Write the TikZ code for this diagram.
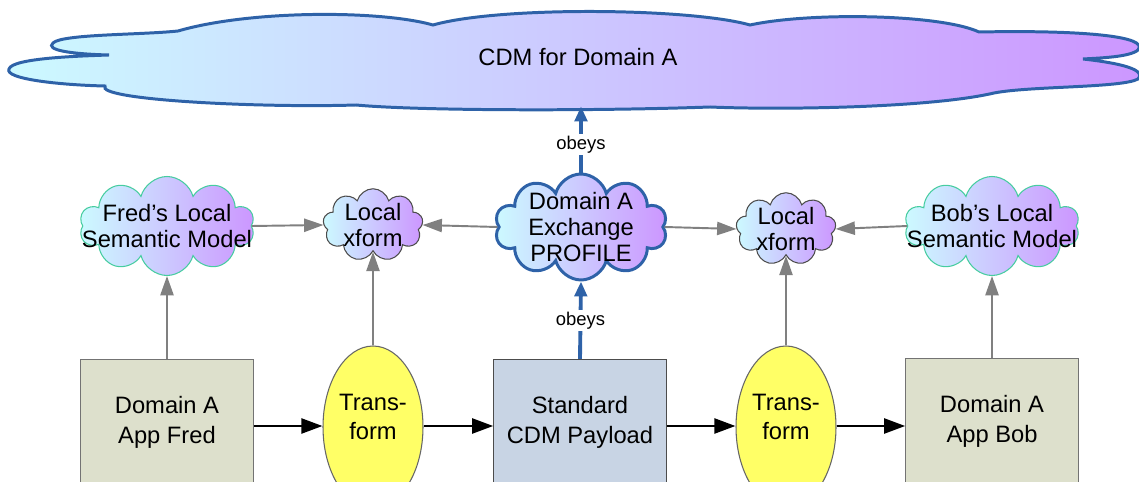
\documentclass[tikz,border=0pt]{standalone}
\usepackage{fontspec}
\setmainfont{Liberation Sans}
\usepackage{xcolor}
\usetikzlibrary{positioning,shapes.symbols,shapes.geometric,arrows.meta}
\definecolor{cloudcyan}{RGB}{204,250,255}
\definecolor{cloudpurple}{RGB}{204,150,255}
\definecolor{cdmblue}{RGB}{46,98,168}
\definecolor{modelgreen}{RGB}{70,205,160}
\definecolor{appgray}{RGB}{221,224,204}
\definecolor{payloadblue}{RGB}{200,212,228}
\definecolor{xformyellow}{RGB}{255,255,102}
\tikzset{
  txt/.style={align=center, font=\fontsize{13.5}{15}\selectfont},
  puff/.style={cloud, cloud puffs=10, cloud ignores aspect, inner sep=0pt, left color=cloudcyan, right color=cloudpurple},
  model/.style={puff, draw=modelgreen, line width=0.6pt, minimum width=3.5cm, minimum height=1.98cm},
  xform/.style={puff, cloud puffs=9, draw=black!70, line width=0.6pt, minimum width=2cm, minimum height=1.45cm},
  profilecloud/.style={puff, draw=cdmblue, line width=1.7pt, minimum width=3.45cm, minimum height=2.12cm},
  appbox/.style={rectangle, draw=black!55, line width=0.6pt, fill=appgray, minimum width=3.45cm, minimum height=2.5cm, txt, font=\fontsize{13.5}{17}\selectfont},
  payloadbox/.style={appbox, fill=payloadblue, draw=black!70},
  trans/.style={ellipse, draw=black!60, line width=0.6pt, fill=xformyellow, minimum width=2cm, minimum height=3.24cm, inner sep=0pt},
  grayarrow/.style={draw=black!50, line width=1.1pt, -{Triangle[length=11pt,width=7.5pt]}},
  flowarrow/.style={draw=black, line width=1.4pt, -{Triangle[length=12pt,width=8.5pt]}},
  obeyarrow/.style={draw=cdmblue, line width=2.2pt, -{Triangle[length=8.5pt,width=7pt]}},
  obeylabel/.style={fill=white, inner sep=1pt, font=\fontsize{10.5}{12}\selectfont}
}
\begin{document}
\begin{tikzpicture}[x=0.02cm,y=-0.02cm]
        \useasboundingbox (0,0) rectangle (1139,482);
        \clip (0,0) rectangle (1139,482);
        % big cloud
        \draw[draw=cdmblue, line width=1.7pt, left color=cloudcyan, right color=cloudpurple]
          (178,31) .. controls (250,10) and (380,10) .. (433,25)
          .. controls (500,6) and (690,8) .. (750,25)
          .. controls (810,12) and (940,14) .. (979,32)
          .. controls (1080,30) and (1150,36) .. (1138,50)
          .. controls (1130,57) and (1100,58) .. (1083,59)
          .. controls (1110,62) and (1148,68) .. (1138,79)
          .. controls (1122,88) and (1030,86) .. (994,93)
          .. controls (930,108) and (780,110) .. (710,107)
          .. controls (600,111) and (420,111) .. (356,105)
          .. controls (260,108) and (95,100) .. (105,86)
          .. controls (60,85) and (4,79) .. (9,69)
          .. controls (12,58) and (80,56) .. (109,55)
          .. controls (70,54) and (45,50) .. (53,43)
          .. controls (62,34) and (140,35) .. cycle;
        \node[txt, minimum height=1.96cm] (cdm) at (578,57) {CDM for Domain A}; %CDM
        % clouds
        \node[model, label={[txt]center:Fred’s Local\\Semantic Model}] (fredmodel) at (167,226) {};
        \node[xform, label={[txt]center:Local\\xform}] (fredxform) at (373,225) {};
        \node[profilecloud, label={[txt]center:Domain A\\Exchange\\PROFILE}] (profile) at (581,227) {};
        \node[xform, label={[txt]center:Local\\xform}] (bobxform) at (786,229) {};
        \node[model, label={[txt]center:Bob’s Local\\Semantic Model}] (bobmodel) at (992,226) {};
        % bottom row
        \node[appbox] (fredapp) at (167,422) {Domain A\\App Fred};
        \node[trans, label={[txt, font=\fontsize{13.5}{17}\selectfont, yshift=0.2cm]center:Trans-\\form}] (fredtrans) at (373,427) {};
        \node[payloadbox] (payload) at (580,422) {Standard\\CDM Payload};
        \node[trans, label={[txt, font=\fontsize{13.5}{17}\selectfont, yshift=0.2cm]center:Trans-\\form}] (bobtrans) at (786,427) {};
        \node[appbox] (bobapp) at (992,421) {Domain A\\App Bob};
        % flow
        \draw[flowarrow] (fredapp.east |- 0,426) -- (fredtrans.west |- 0,426);
        \draw[flowarrow] (fredtrans.east |- 0,426) -- (payload.west |- 0,426);
        \draw[flowarrow] (payload.east |- 0,426) -- (bobtrans.west |- 0,426);
        \draw[flowarrow] (bobtrans.east |- 0,426) -- (bobapp.west |- 0,426);
        % uses
        \draw[grayarrow] (fredapp.north) -- (fredmodel.south);
        \draw[grayarrow] (fredtrans.north) -- (fredxform.south);
        \draw[grayarrow] (bobtrans.north) -- (bobxform.south);
        \draw[grayarrow] (bobapp.north) -- (bobmodel.south);
        \draw[grayarrow] (fredmodel.east) -- (fredxform.west);
        \draw[grayarrow] (profile.west) -- (fredxform.east);
        \draw[grayarrow] (profile.east) -- (bobxform.west);
        \draw[grayarrow] (bobmodel.west) -- (bobxform.east);
        % obeys
        \draw[obeyarrow] (payload.north) -- node[obeylabel]{obeys} (profile.south);
        \draw[obeyarrow] (profile.north) -- node[obeylabel, pos=0.42]{obeys} (profile.north |- cdm.south);
    \end{tikzpicture}
\end{document}
